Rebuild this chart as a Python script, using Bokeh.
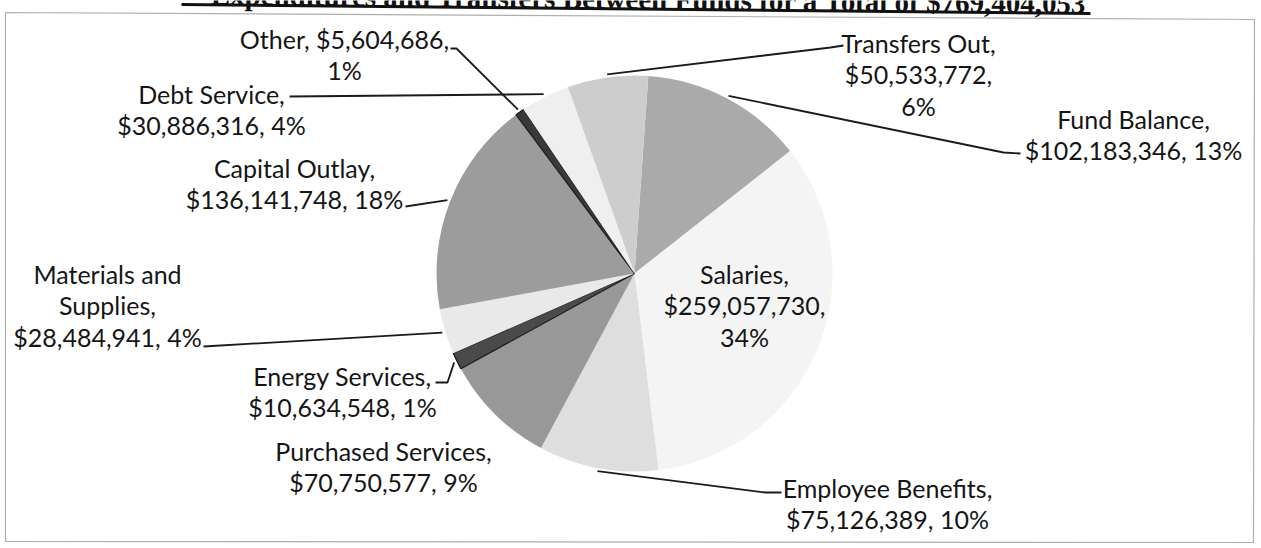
import numpy as np
from bokeh.plotting import figure
from bokeh.models import Range1d, ColumnDataSource
from bokeh.core.properties import value as pv
from bokeh.embed import file_html
from bokeh.resources import INLINE

# ---------------- data ----------------
categories = ["Fund Balance", "Salaries", "Employee Benefits", "Purchased Services",
              "Energy Services", "Materials and Supplies", "Capital Outlay", "Other",
              "Debt Service", "Transfers Out"]
amounts = [102183346, 259057730, 75126389, 70750577, 10634548,
           28484941, 136141748, 5604686, 30886316, 50533772]
percent_labels = [13, 34, 10, 9, 1, 4, 18, 1, 4, 6]
title_text = "Expenditures and Transfers Between Funds for a Total of $769,404,053"

# ---------------- styles / layout ----------------
colors = ["#aaaaaa", "#f4f4f4", "#dedede", "#989898", "#4a4a4a",
          "#e9e9e9", "#9c9c9c", "#3a3a3a", "#efefef", "#cdcdcd"]
edge_alpha = [0, 0, 0, 0, 1, 0, 0, 1, 0, 0]

W, H = 1261, 548
def Y(sy):          # screen y -> data y
    return H - sy

CX, CY, R = 634, 273, 198
START = 4.0          # degrees clockwise from 12 o'clock
LS = 31.5            # label line spacing

# per label: word groups per line, centre x, first line y, label-side leader points
layout = {
    "Fund Balance":           ([2, 2], 1133, 118, [(1020, 153), (1003, 152)]),
    "Salaries":               ([1, 1, 1], 744, 273, []),
    "Employee Benefits":      ([2, 2], 887, 487, [(781, 492), (765, 492)]),
    "Purchased Services":     ([2, 2], 383, 450, []),
    "Energy Services":        ([2, 2], 342, 375, [(435, 382), (447, 382)]),
    "Materials and Supplies": ([2, 1, 2], 107, 273, [(203, 346)]),
    "Capital Outlay":         ([2, 2], 294, 167, [(405, 206)]),
    "Other":                  ([2, 1], 344, 38, [(450, 48), (456, 48)]),
    "Debt Service":           ([2, 2], 211, 93, [(289, 96)]),
    "Transfers Out":          ([2, 1, 1], 918, 42, [(843, 45), (830, 47)]),
}

p = figure(width=W, height=H, x_range=Range1d(0, W), y_range=Range1d(0, H),
           output_backend="svg", toolbar_location=None, min_border=0,
           x_axis_type=None, y_axis_type=None)
p.grid.visible = False
p.outline_line_color = None
p.background_fill_color = "white"
p.border_fill_color = "white"

# scanned page frame
p.line([5, 1254, 1253, 5, 5], [Y(12), Y(19), Y(542), Y(541), Y(12)],
       line_color="#9a9a9a", line_width=1.2, line_alpha=0.8)

# title (mostly cut off at the top of the page) and its underline
p.text(x=[1087], y=[Y(3)], text=[title_text], angle=-0.0102,
       text_font=pv("Liberation Serif"), text_font_style="bold", text_font_size="29px",
       text_align="right", text_baseline="alphabetic", text_color="#111111")
p.line([181, 1090], [Y(4), Y(13)], line_color="#111111", line_width=3)

# ---------------- pie ----------------
total = float(sum(amounts))
frac = np.array(amounts, dtype=float) / total
cum = np.concatenate([[0.0], np.cumsum(frac)]) * 360.0 + START
start = np.pi / 2 - np.radians(cum[:-1])
end = np.pi / 2 - np.radians(cum[1:])
src = ColumnDataSource(dict(start=start, end=end, color=colors, ea=edge_alpha, cat=categories))
p.wedge(x=CX, y=Y(CY), radius=R, start_angle="start", end_angle="end", direction="clock",
        fill_color="color", line_color="#1a1a1a", line_alpha="ea", line_width=1.2, source=src)

# ---------------- labels & leaders ----------------
tx, ty, tt = [], [], []
for i, cat in enumerate(categories):
    words = f"{cat}, ${amounts[i]:,}, {percent_labels[i]}%".split(" ")
    groups, lx, ly, pts = layout[cat]
    k = 0
    for j, n in enumerate(groups):
        tx.append(lx)
        ty.append(Y(ly + j * LS))
        tt.append(" ".join(words[k:k + n]))
        k += n
    if pts:
        mid = np.radians((cum[i] + cum[i + 1]) / 2)
        ex = CX + (R + 3) * np.sin(mid)
        ey = CY - (R + 3) * np.cos(mid)
        xs = [q[0] for q in pts] + [ex]
        ys = [Y(q[1]) for q in pts] + [Y(ey)]
        p.line(xs, ys, line_color="#1a1a1a", line_width=1.8)

p.text(x=tx, y=ty, text=tt, text_font=pv("Lato"), text_font_size="25px",
       text_align="center", text_baseline="middle", text_color="#151515")

open("out.html", "w").write(file_html(p, INLINE))
